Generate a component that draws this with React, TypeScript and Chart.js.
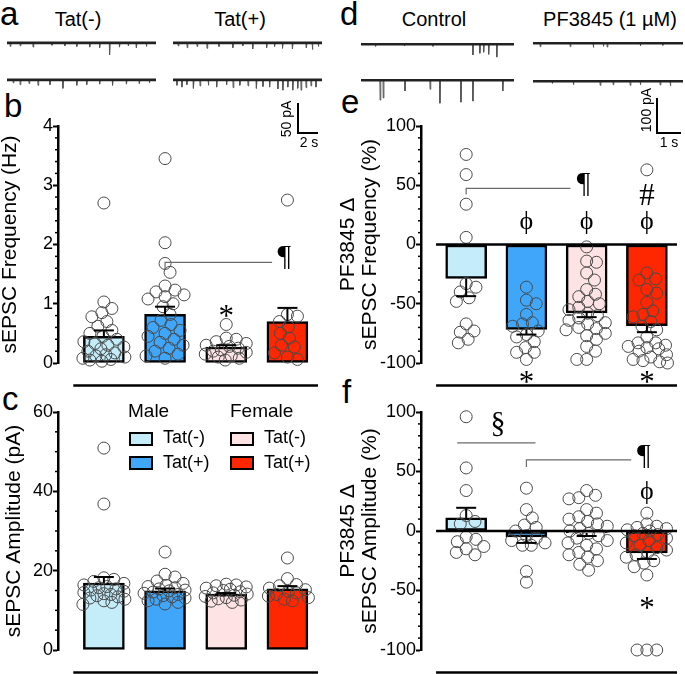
import React, { useEffect, useRef } from "react";
import { Chart, registerables } from "chart.js";

Chart.register(...registerables);

const SANS = '"Liberation Sans", Arial, Helvetica, sans-serif';
const SERIF = '"Liberation Serif", "Times New Roman", Times, serif';

// ---------------- groups ----------------
const groupNames = ["Male Tat(-)", "Male Tat(+)", "Female Tat(-)", "Female Tat(+)"];
const groupColors = ["#C4ECF9", "#3FA6F9", "#FDE3E3", "#FF2700"];

// ---------------- panel b : sEPSC frequency (Hz) ----------------
const freqMeans = [0.45, 0.82, 0.27, 0.7];
const freqSem = [0.1, 0.13, 0.03, 0.23];
const freqMaleMinus = [2.7, 1.03, 0.92, 0.85, 0.78, 0.7, 0.62, 0.55, 0.5, 0.45, 0.4, 0.36, 0.33, 0.3, 0.27, 0.24, 0.2, 0.17, 0.14, 0.12, 0.1, 0.08, 0.06, 0.05, 0.03];
const freqMalePlus = [3.45, 2.03, 1.68, 1.53, 1.3, 1.23, 1.2, 1.15, 1.12, 1.08, 1.0, 0.95, 0.82, 0.72, 0.65, 0.6, 0.55, 0.5, 0.45, 0.4, 0.35, 0.3, 0.25, 0.2, 0.15, 0.12, 0.08];
const freqFemaleMinus = [0.65, 0.42, 0.4, 0.36, 0.33, 0.3, 0.28, 0.25, 0.22, 0.2, 0.18, 0.15, 0.12, 0.1, 0.08, 0.05];
const freqFemalePlus = [2.75, 0.82, 0.79, 0.7, 0.61, 0.5, 0.42, 0.3, 0.27, 0.17, 0.1, 0.06];

// ---------------- panel c : sEPSC amplitude (pA) ----------------
const ampMeans = [16.9, 14.9, 14.1, 15.4];
const ampSem = [1.5, 0.6, 0.25, 0.7];
const ampMaleMinus = [50.9, 36.8, 18.2, 17.8, 17.3, 16.8, 16.4, 16, 15.7, 15.4, 15.1, 14.8, 14.5, 14.2, 14, 13.7, 13.4, 13.1, 12.8, 12.4, 12, 11.5];
const ampMalePlus = [24.7, 19.1, 18.4, 17.4, 16.8, 16.3, 16, 15.7, 15.4, 15.1, 14.9, 14.6, 14.3, 14, 13.7, 13.4, 13.1, 12.8, 12.4, 12, 11.6];
const ampFemaleMinus = [16.6, 16.4, 16.2, 15.9, 15.6, 15.3, 15, 14.7, 14.4, 14.1, 13.8, 13.5, 13.2, 12.9, 12.6, 12.3, 12];
const ampFemalePlus = [23.2, 18, 16.5, 16.2, 15.6, 15.2, 14.8, 14.4, 14, 13.6, 13.2, 12.8, 12.4];

// ---------------- panel e : PF3845 delta sEPSC frequency (%) ----------------
const pfFreqMeans = [-28.7, -71.7, -57.7, -68.4];
const pfFreqSem = [14.9, 4.3, 3.6, 5.6];
const pfFreqMaleMinus = [76, 59, 34, 6, -33, -36, -40, -45, -48, -67, -73, -74, -80, -83];
const pfFreqMalePlus = [-36, -47, -50, -59, -66, -67, -69, -73, -76, -78, -82, -87, -91, -91, -97];
const pfFreqFemaleMinus = [-2, -14, -15, -24, -30, -38, -42, -44, -48, -50, -53, -55, -58, -60, -62, -64, -66, -67, -70, -71, -72, -75, -77, -80, -86, -90, -97, -97];
const pfFreqFemalePlus = [63, -24, -29, -30, -38, -41, -49, -56, -59, -61, -65, -69, -72, -78, -83, -83, -85, -86, -87, -88, -90, -93, -95, -97, -98, -99, -100];

// ---------------- panel f : PF3845 delta sEPSC amplitude (%) ----------------
const pfAmpMeans = [11, -5, -1.7, -18.5];
const pfAmpSem = [8.5, 5, 2.5, 5];
const pfAmpMaleMinus = [96, 53, 34, 13, 8, 6, -5, -7, -9, -13, -15, -18, -20];
const pfAmpMalePlus = [36, 18, 11, 5, 3, 0, -4, -6, -8, -10, -12, -12, -34, -43];
const pfAmpFemaleMinus = [34, 30, 28, 27, 18, 15, 12, 10, 8, 6, 4, 2, 0, -2, -4, -6, -8, -10, -12, -15, -18, -20, -22, -25, -28, -33];
const pfAmpFemalePlus = [15, 6, 4, 3, 2, 1, 0, -2, -3, -4, -6, -8, -10, -12, -14, -16, -18, -20, -22, -25, -27, -30, -37, -100, -100, -100];

// ---------------- traces : [time (s), event amplitude (pA)] ----------------
const traceTatMinusTop = [[0.3, 6], [1.3, 5], [2.6, 7], [4.5, 4], [5.8, 5], [7.0, 6], [8.3, 7], [9.3, 8], [10.3, 20], [11.3, 7], [12.2, 5], [13.0, 8], [14.0, 6]];
const traceTatMinusBottom = [[0.6, 5], [1.3, 8], [2.2, 6], [3.1, 9], [4.3, 8], [5.6, 14], [7.0, 9], [8.0, 8], [9.3, 7], [10.6, 9], [12.0, 7], [13.3, 6], [14.3, 5]];
const traceTatPlusTop = [[0.5, 5], [1.4, 8], [2.4, 6], [3.4, 9], [4.6, 6], [6.0, 8], [7.0, 5], [8.0, 10], [9.4, 8], [10.2, 6], [11.0, 9], [12.0, 10], [13.4, 8], [14.0, 11], [14.6, 6]];
const traceTatPlusBottom = [[0.37, 9], [0.87, 12], [1.37, 8], [2.03, 14], [2.7, 10], [3.53, 9], [4.37, 12], [5.37, 8], [6.03, 13], [6.7, 9], [7.53, 10], [8.37, 14], [9.03, 11], [9.7, 12], [10.53, 15], [11.03, 17], [11.53, 12], [12.03, 17], [12.53, 14], [12.87, 17], [13.37, 13], [13.87, 10], [14.37, 12]];
const traceControlTop = [[0.6, 6], [1.8, 5], [3.0, 6], [4.67, 31], [4.96, 26], [5.12, 23], [5.33, 29], [5.67, 37]];
const traceControlBottom = [[0.79, 57], [0.92, 51], [1.83, 31], [2.88, 26], [3.29, 66], [4.17, 63], [4.67, 60], [5.92, 31]];
const tracePfTop = [[0.29, 10], [1.54, 10], [2.5, 12], [2.92, 9], [3.08, 11], [4.46, 8], [5.4, 6]];
const tracePfBottom = [[0.8, 6], [1.67, 10], [2.79, 12], [3.33, 10], [4.04, 12], [4.46, 10], [5.29, 11], [5.71, 13]];

// ---------------- layout constants ----------------
const X_MIN = -0.75;
const X_MAX = 3.5;
const PAD_TOP = 20;
const PAD_BOTTOM = 30;

type Bracket = { x1: number; x2: number; y: number; tick: number };
type Mark = { x: number; y: number; text: string; size: number };

// simple deterministic beeswarm layout (pixel space), returns x offsets in category units
function swarm(values: number[], pxPerY: number, pxPerX: number, minDist = 10, maxHalf = 21): number[] {
  const order = values.map((_, i) => i).sort((a, b) => values[b] - values[a]);
  const placed: { x: number; y: number }[] = [];
  const out = new Array(values.length).fill(0);
  for (const i of order) {
    const y = values[i] * pxPerY;
    let best = 0;
    let bestScore = -Infinity;
    for (let k = 0; k <= 2 * maxHalf; k++) {
      const dx = (k % 2 === 1 ? 1 : -1) * Math.ceil(k / 2);
      let dmin = Infinity;
      for (const p of placed) dmin = Math.min(dmin, Math.hypot(p.x - dx, p.y - y));
      if (dmin >= minDist) {
        best = dx;
        break;
      }
      if (dmin > bestScore + 0.5) {
        bestScore = dmin;
        best = dx;
      }
    }
    placed.push({ x: best, y });
    out[i] = best / pxPerX;
  }
  return out;
}

type PanelProps = {
  left: number;
  top: number;
  width: number;
  height: number;
  axisWidth: number;
  padRight: number;
  yMin: number;
  yMax: number;
  yStep: number;
  minorStep: number;
  title: string | string[];
  titleLineHeight: number;
  means: number[];
  sems: number[];
  points: number[][];
  zeroLine: boolean;
  brackets: Bracket[];
  marks: Mark[];
};

function BarPanel(p: PanelProps) {
  const ref = useRef<HTMLCanvasElement>(null);
  useEffect(() => {
    const plotW = p.width - p.axisWidth - p.padRight;
    const plotH = p.height - PAD_TOP - PAD_BOTTOM;
    const pxPerX = plotW / (X_MAX - X_MIN);
    const pxPerY = plotH / (p.yMax - p.yMin);

    const line = (ctx: CanvasRenderingContext2D, x1: number, y1: number, x2: number, y2: number) => {
      ctx.beginPath();
      ctx.moveTo(x1, y1);
      ctx.lineTo(x2, y2);
      ctx.stroke();
    };

    const decor = {
      id: "decor",
      afterDatasetsDraw(chart: any) {
        const { ctx, chartArea: ca, scales } = chart;
        const xs = scales.x;
        const ys = scales.y;
        ctx.save();
        ctx.strokeStyle = "#000";
        ctx.lineCap = "butt";
        // minor ticks
        ctx.lineWidth = 1.5;
        const n = Math.round((p.yMax - p.yMin) / p.minorStep);
        for (let k = 0; k <= n; k++) {
          const v = p.yMin + k * p.minorStep;
          const r = (v - p.yMin) / p.yStep;
          if (Math.abs(r - Math.round(r)) < 1e-6) continue;
          const py = ys.getPixelForValue(v);
          line(ctx, ca.left - 3, py, ca.left, py);
        }
        const xl = xs.getPixelForValue(-0.5);
        const xr = xs.getPixelForValue(3.5);
        ctx.lineWidth = 2.5;
        if (p.zeroLine) {
          const y0 = ys.getPixelForValue(0);
          line(ctx, xl, y0, xr, y0);
        }
        const yb = ca.bottom + 22.5;
        line(ctx, xl, yb, xr, yb);
        // error bars (SEM)
        ctx.lineWidth = 2;
        p.means.forEach((m, i) => {
          const end = m >= 0 ? m + p.sems[i] : m - p.sems[i];
          const px = xs.getPixelForValue(i);
          const y1 = ys.getPixelForValue(m);
          const y2 = ys.getPixelForValue(end);
          line(ctx, px, y1, px, y2);
          line(ctx, px - 10, y2, px + 10, y2);
        });
        // significance brackets
        ctx.strokeStyle = "#6b6b6b";
        ctx.lineWidth = 1.2;
        p.brackets.forEach((b) => {
          const x1 = xs.getPixelForValue(b.x1);
          const x2 = xs.getPixelForValue(b.x2);
          const y = ys.getPixelForValue(b.y);
          ctx.beginPath();
          if (b.tick) {
            ctx.moveTo(x1, y + b.tick);
            ctx.lineTo(x1, y);
          } else {
            ctx.moveTo(x1, y);
          }
          ctx.lineTo(x2, y);
          ctx.stroke();
        });
        // symbols
        ctx.fillStyle = "#000";
        ctx.textAlign = "center";
        ctx.textBaseline = "middle";
        p.marks.forEach((m) => {
          ctx.font = `${m.size}px ${SERIF}`;
          ctx.fillText(m.text, xs.getPixelForValue(m.x), ys.getPixelForValue(m.y));
        });
        ctx.restore();
      },
    };

    const datasets: any[] = [
      {
        type: "bar",
        data: p.means.map((m, i) => ({ x: i, y: m })),
        backgroundColor: groupColors,
        borderColor: "#000",
        borderWidth: 2.5,
        borderSkipped: false,
        barThickness: 41,
        order: 3,
      },
      ...p.points.map((vals, gi) => {
        const off = swarm(vals, pxPerY, pxPerX);
        return {
          type: "scatter",
          label: groupNames[gi],
          data: vals.map((v, k) => ({ x: gi + off[k], y: v })),
          pointRadius: 6,
          pointHoverRadius: 6,
          pointBorderWidth: 1,
          pointBorderColor: "#4a4a4a",
          pointBackgroundColor: "rgba(0,0,0,0)",
          borderColor: "#4a4a4a",
          clip: false,
          order: 1,
        };
      }),
    ];

    const chart = new Chart(ref.current as HTMLCanvasElement, {
      type: "bar",
      data: { datasets },
      options: {
        animation: false,
        responsive: false,
        events: [],
        layout: { padding: { top: PAD_TOP, bottom: PAD_BOTTOM, left: 0, right: p.padRight } },
        plugins: { legend: { display: false }, tooltip: { enabled: false } },
        scales: {
          x: { type: "linear", min: X_MIN, max: X_MAX, display: false, offset: false },
          y: {
            type: "linear",
            min: p.yMin,
            max: p.yMax,
            afterFit: (axis: any) => {
              axis.width = p.axisWidth;
            },
            ticks: { stepSize: p.yStep, font: { family: SANS, size: 18 }, color: "#000", padding: 0 },
            grid: { drawOnChartArea: false, drawTicks: true, tickLength: 5, tickWidth: 2, tickColor: "#000" },
            border: { display: true, color: "#000", width: 2.5 },
            title: {
              display: true,
              text: p.title,
              color: "#000",
              padding: 0,
              font: { family: SANS, size: 21, lineHeight: p.titleLineHeight },
            },
          },
        },
      } as any,
      plugins: [decor],
    });
    return () => chart.destroy();
  }, []);
  return (
    <canvas
      ref={ref}
      width={p.width}
      height={p.height}
      style={{ position: "absolute", left: p.left, top: p.top, width: p.width, height: p.height }}
    />
  );
}

type TraceProps = {
  left: number;
  top: number;
  width: number;
  height: number;
  tMax: number;
  yMin: number;
  yMax: number;
  events: number[][];
};

function Trace(t: TraceProps) {
  const ref = useRef<HTMLCanvasElement>(null);
  useEffect(() => {
    const dt = t.tMax / t.width;
    const spikes: { x: number; y: number }[] = [{ x: 0, y: 0 }];
    [...t.events]
      .sort((a, b) => a[0] - b[0])
      .forEach(([time, amp]) => {
        spikes.push({ x: time, y: 0 }, { x: time + 0.25 * dt, y: -amp }, { x: time + 0.9 * dt, y: 0 });
      });
    spikes.push({ x: t.tMax, y: 0 });
    const baseline = [
      { x: 0, y: 0 },
      { x: t.tMax, y: 0 },
    ];
    const chart = new Chart(ref.current as HTMLCanvasElement, {
      type: "line",
      data: {
        datasets: [
          { data: baseline, borderColor: "#222", borderWidth: 2.6, pointRadius: 0, tension: 0, clip: false } as any,
          { data: spikes, borderColor: "#555", borderWidth: 1, pointRadius: 0, tension: 0, clip: false } as any,
        ],
      },
      options: {
        animation: false,
        responsive: false,
        events: [],
        layout: { padding: 0 },
        plugins: { legend: { display: false }, tooltip: { enabled: false } },
        scales: {
          x: { type: "linear", min: 0, max: t.tMax, display: false },
          y: { type: "linear", min: t.yMin, max: t.yMax, display: false },
        },
      } as any,
    });
    return () => chart.destroy();
  }, []);
  return (
    <canvas
      ref={ref}
      width={t.width}
      height={t.height}
      style={{ position: "absolute", left: t.left, top: t.top, width: t.width, height: t.height }}
    />
  );
}

function Label(props: { text: string; x: number; baseline: number; size: number; align?: "left" | "center"; family?: string }) {
  const { text, x, baseline, size, align = "left", family = SANS } = props;
  const style: React.CSSProperties = {
    position: "absolute",
    top: baseline - 0.8465 * size,
    fontSize: size,
    lineHeight: `${size}px`,
    fontFamily: family,
    whiteSpace: "nowrap",
    color: "#000",
  };
  if (align === "center") {
    style.left = x - 150;
    style.width = 300;
    style.textAlign = "center";
  } else {
    style.left = x;
  }
  return <div style={style}>{text}</div>;
}

function VLabel(props: { text: string; cx: number; cy: number; size: number }) {
  const { text, cx, cy, size } = props;
  return (
    <div
      style={{
        position: "absolute",
        left: cx - 50,
        top: cy - size / 2,
        width: 100,
        height: size,
        lineHeight: `${size}px`,
        fontSize: size,
        fontFamily: SANS,
        textAlign: "center",
        whiteSpace: "nowrap",
        transform: "rotate(-90deg)",
      }}
    >
      {text}
    </div>
  );
}

function Rect(props: { x: number; y: number; w: number; h: number; bg?: string; border?: boolean }) {
  const { x, y, w, h, bg = "#000", border = false } = props;
  return (
    <div
      style={{
        position: "absolute",
        left: x,
        top: y,
        width: w,
        height: h,
        background: bg,
        border: border ? "2px solid #000" : undefined,
        boxSizing: "border-box",
      }}
    />
  );
}

const PHI = "\u03D5";

export default function App() {
  return (
    <div
      style={{
        position: "absolute",
        left: 0,
        top: 0,
        width: 685,
        height: 674,
        overflow: "hidden",
        background: "#fff",
        fontFamily: SANS,
      }}
    >
      {/* panel letters */}
      <Label text="a" x={0} baseline={25} size={33} />
      <Label text="b" x={4} baseline={117} size={33} />
      <Label text="c" x={2} baseline={410} size={33} />
      <Label text="d" x={340} baseline={25} size={33} />
      <Label text="e" x={341} baseline={113} size={33} />
      <Label text="f" x={342} baseline={403} size={33} />

      {/* trace headers */}
      <Label text="Tat(-)" x={78} baseline={26} size={20} align="center" />
      <Label text="Tat(+)" x={240} baseline={26} size={20} align="center" />
      <Label text="Control" x={434} baseline={26} size={20} align="center" />
      <Label text="PF3845 (1 µM)" x={610} baseline={26} size={20} align="center" />

      {/* panel a traces */}
      <Trace left={7} top={38} width={149} height={23} tMax={15} yMin={-30} yMax={8} events={traceTatMinusTop} />
      <Trace left={173} top={38} width={149} height={23} tMax={15} yMin={-30} yMax={8} events={traceTatPlusTop} />
      <Trace left={7} top={75} width={149} height={23} tMax={15} yMin={-30} yMax={8} events={traceTatMinusBottom} />
      <Trace left={173} top={75} width={149} height={23} tMax={15} yMin={-30} yMax={8} events={traceTatPlusBottom} />

      {/* panel d traces */}
      <Trace left={361} top={40} width={153} height={30} tMax={6.4} yMin={-74} yMax={12} events={traceControlTop} />
      <Trace left={533} top={39} width={150} height={30} tMax={6.25} yMin={-74} yMax={12} events={tracePfTop} />
      <Trace left={361} top={76} width={153} height={30} tMax={6.4} yMin={-74} yMax={12} events={traceControlBottom} />
      <Trace left={533} top={77} width={150} height={30} tMax={6.25} yMin={-74} yMax={12} events={tracePfBottom} />

      {/* scale bars */}
      <Rect x={297} y={103} w={2} h={31} />
      <Rect x={297} y={132} w={21} h={2} />
      <VLabel text="50 pA" cx={286} cy={119} size={14} />
      <Label text="2 s" x={309} baseline={147} size={14} align="center" />
      <Rect x={656} y={98} w={2} h={36} />
      <Rect x={656} y={132} w={25} h={2} />
      <VLabel text="100 pA" cx={646} cy={110} size={14} />
      <Label text="1 s" x={669} baseline={147} size={14} align="center" />

      {/* panel b */}
      <BarPanel
        left={0}
        top={106}
        width={330}
        height={287}
        axisWidth={58}
        padRight={12}
        yMin={0}
        yMax={4}
        yStep={1}
        minorStep={0.2}
        title="sEPSC Frequency (Hz)"
        titleLineHeight={0.95}
        means={freqMeans}
        sems={freqSem}
        points={[freqMaleMinus, freqMalePlus, freqFemaleMinus, freqFemalePlus]}
        zeroLine={false}
        brackets={[{ x1: 1, x2: 2.75, y: 1.7, tick: 7 }]}
        marks={[
          { x: 2.95, y: 1.78, text: "¶", size: 30 },
          { x: 2, y: 0.76, text: "*", size: 31 },
        ]}
      />

      {/* panel c */}
      <BarPanel
        left={4}
        top={392}
        width={326}
        height={288}
        axisWidth={54}
        padRight={12}
        yMin={0}
        yMax={60}
        yStep={20}
        minorStep={5}
        title="sEPSC Amplitude (pA)"
        titleLineHeight={0.95}
        means={ampMeans}
        sems={ampSem}
        points={[ampMaleMinus, ampMalePlus, ampFemaleMinus, ampFemalePlus]}
        zeroLine={false}
        brackets={[]}
        marks={[]}
      />

      {/* legend for c */}
      <Label text="Male" x={128} baseline={417} size={19} />
      <Label text="Female" x={230} baseline={417} size={19} />
      <Rect x={129} y={432} w={24} h={14} bg={groupColors[0]} border />
      <Rect x={129} y={456} w={24} h={14} bg={groupColors[1]} border />
      <Rect x={230} y={432} w={24} h={14} bg={groupColors[2]} border />
      <Rect x={230} y={456} w={24} h={14} bg={groupColors[3]} border />
      <Label text="Tat(-)" x={163} baseline={443} size={18} />
      <Label text="Tat(+)" x={163} baseline={468} size={18} />
      <Label text="Tat(-)" x={264} baseline={443} size={18} />
      <Label text="Tat(+)" x={264} baseline={468} size={18} />

      {/* panel e */}
      <BarPanel
        left={337}
        top={106}
        width={347}
        height={287}
        axisWidth={84}
        padRight={2}
        yMin={-100}
        yMax={100}
        yStep={50}
        minorStep={10}
        title={["PF3845 Δ", "sEPSC Frequency (%)"]}
        titleLineHeight={1.05}
        means={pfFreqMeans}
        sems={pfFreqSem}
        points={[pfFreqMaleMinus, pfFreqMalePlus, pfFreqFemaleMinus, pfFreqFemalePlus]}
        zeroLine={true}
        brackets={[{ x1: 0, x2: 1.73, y: 47.3, tick: 6 }]}
        marks={[
          { x: 1.95, y: 50.6, text: "¶", size: 30 },
          { x: 1, y: 18.6, text: PHI, size: 26 },
          { x: 2, y: 18.6, text: PHI, size: 26 },
          { x: 3, y: 18.6, text: PHI, size: 26 },
          { x: 3, y: 40, text: "#", size: 31 },
          { x: 1, y: -118, text: "*", size: 31 },
          { x: 3, y: -118, text: "*", size: 31 },
        ]}
      />

      {/* panel f */}
      <BarPanel
        left={337}
        top={392}
        width={347}
        height={288}
        axisWidth={84}
        padRight={2}
        yMin={-100}
        yMax={100}
        yStep={50}
        minorStep={10}
        title={["PF3845 Δ", "sEPSC Amplitude (%)"]}
        titleLineHeight={1.05}
        means={pfAmpMeans}
        sems={pfAmpSem}
        points={[pfAmpMaleMinus, pfAmpMalePlus, pfAmpFemaleMinus, pfAmpFemalePlus]}
        zeroLine={true}
        brackets={[
          { x1: -0.15, x2: 1.15, y: 74, tick: 0 },
          { x1: 1, x2: 2.74, y: 59.7, tick: 7 },
        ]}
        marks={[
          { x: 0.53, y: 89.5, text: "§", size: 30 },
          { x: 2.95, y: 62.6, text: "¶", size: 30 },
          { x: 3, y: 33, text: PHI, size: 26 },
          { x: 3, y: -66, text: "*", size: 31 },
        ]}
      />
    </div>
  );
}
